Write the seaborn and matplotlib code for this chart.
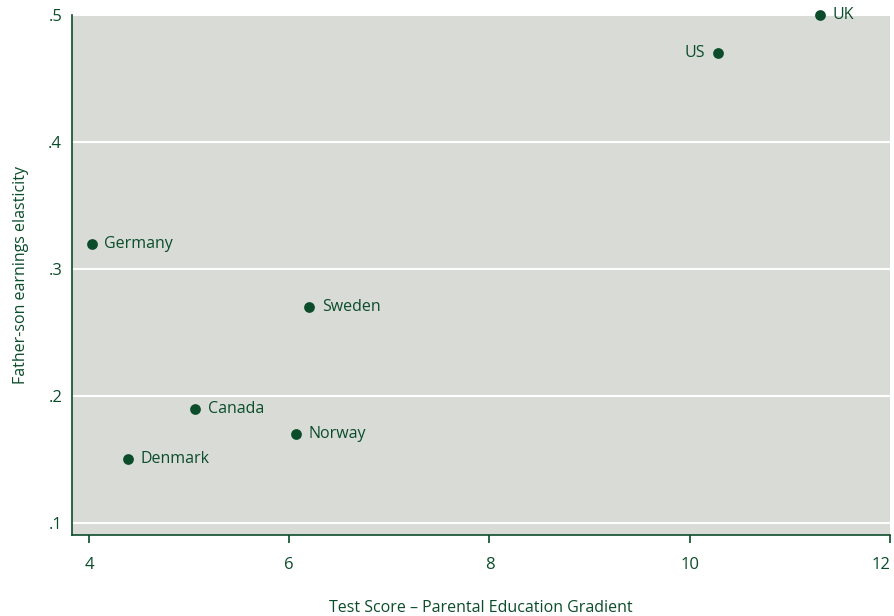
import pandas as pd
import seaborn as sns
from matplotlib import pyplot as plt
from matplotlib.ticker import FuncFormatter

countries = ["UK", "US", "Germany", "Sweden", "Canada", "Norway", "Denmark"]
gradient = [11.30, 10.28, 4.03, 6.20, 5.06, 6.07, 4.39]
elasticity = [0.50, 0.47, 0.32, 0.27, 0.19, 0.17, 0.15]

df = pd.DataFrame({"country": countries, "gradient": gradient, "elasticity": elasticity})

green = "#0b4d2b"
bg = "#d9dbd6"

sns.set_style("white")
plt.rcParams["font.family"] = ["Open Sans", "DejaVu Sans"]

fig = plt.figure(figsize=(8.94, 6.16), dpi=100)
ax = fig.add_axes([0.0805, 0.1315, 0.915, 0.8441])
ax.set_facecolor(bg)

sns.scatterplot(data=df, x="gradient", y="elasticity", ax=ax, color=green,
                s=60, linewidth=0, clip_on=False, zorder=3)

# country labels, US sits to the left of its dot
for c, xv, yv in zip(countries, gradient, elasticity):
    if c == "US":
        ax.annotate(c, (xv, yv), xytext=(-9, 0), textcoords="offset points",
                    ha="right", va="center", color=green, fontsize=11.5)
    else:
        ax.annotate(c, (xv, yv), xytext=(9, 0), textcoords="offset points",
                    ha="left", va="center", color=green, fontsize=11.5)

ax.set_xlim(3.83, 12)
ax.set_ylim(0.0905, 0.5)
ax.set_xticks([4, 6, 8, 10, 12])
ax.set_yticks([0.1, 0.2, 0.3, 0.4, 0.5])
ax.yaxis.set_major_formatter(FuncFormatter(lambda v, p: f"{v:.1f}".lstrip("0")))

ax.grid(axis="y", color="white", linewidth=1.5)
ax.set_axisbelow(True)

sns.despine(ax=ax)
for s in ["left", "bottom"]:
    ax.spines[s].set_color(green)
    ax.spines[s].set_linewidth(1.2)

ax.tick_params(axis="x", bottom=True, direction="out", length=6, width=1.2,
               color=green, labelcolor=green, labelsize=12, pad=10)
ax.tick_params(axis="y", left=False, length=0, labelcolor=green, labelsize=12, pad=7)
ax.get_xticklabels()[-1].set_horizontalalignment("right")

ax.set_xlabel("Test Score – Parental Education Gradient", color=green,
              fontsize=11.5, labelpad=19)
ax.set_ylabel("Father-son earnings elasticity", color=green, fontsize=11.5,
              labelpad=14)

fig.savefig("out.png", dpi=100)
